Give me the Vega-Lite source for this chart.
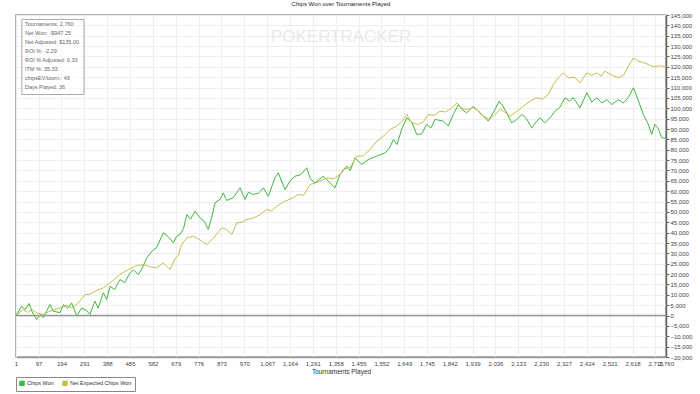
{
  "$schema": "https://vega.github.io/schema/vega-lite/v6.json",
  "autosize": {"type": "none"},
  "width": 650,
  "height": 342,
  "padding": {"left": 16, "top": 15, "right": 34, "bottom": 37},
  "background": "white",
  "title": {"text": "Chips Won over Tournaments Played", "fontSize": 6, "font": "Liberation Sans", "fontWeight": "normal", "color": "#222", "offset": 5, "anchor": "middle"},
  "config": {
    "view": {"stroke": "#999", "strokeWidth": 1.5},
    "font": "Liberation Sans",
    "axis": {"labelFont": "Liberation Sans", "titleFont": "Liberation Sans", "labelColor": "#444", "titleColor": "#333", "gridColor": "#eeeeee", "gridWidth": 1, "labelOverlap": false, "labelFlush": false}
  },
  "datasets": {
    "chips": [
      {"t": 1, "v": 0, "series": "Chips Won"},
      {"t": 25, "v": 4500, "series": "Chips Won"},
      {"t": 39, "v": 2900, "series": "Chips Won"},
      {"t": 57, "v": 5800, "series": "Chips Won"},
      {"t": 68, "v": 2100, "series": "Chips Won"},
      {"t": 89, "v": -1900, "series": "Chips Won"},
      {"t": 104, "v": 500, "series": "Chips Won"},
      {"t": 117, "v": -1000, "series": "Chips Won"},
      {"t": 145, "v": 5300, "series": "Chips Won"},
      {"t": 159, "v": 2100, "series": "Chips Won"},
      {"t": 188, "v": 1400, "series": "Chips Won"},
      {"t": 202, "v": 5300, "series": "Chips Won"},
      {"t": 220, "v": 3500, "series": "Chips Won"},
      {"t": 237, "v": 6100, "series": "Chips Won"},
      {"t": 259, "v": -300, "series": "Chips Won"},
      {"t": 280, "v": 3700, "series": "Chips Won"},
      {"t": 300, "v": 2500, "series": "Chips Won"},
      {"t": 315, "v": 500, "series": "Chips Won"},
      {"t": 336, "v": 6900, "series": "Chips Won"},
      {"t": 350, "v": 3700, "series": "Chips Won"},
      {"t": 372, "v": 11000, "series": "Chips Won"},
      {"t": 386, "v": 7700, "series": "Chips Won"},
      {"t": 400, "v": 14100, "series": "Chips Won"},
      {"t": 420, "v": 12500, "series": "Chips Won"},
      {"t": 442, "v": 17400, "series": "Chips Won"},
      {"t": 462, "v": 15800, "series": "Chips Won"},
      {"t": 485, "v": 20600, "series": "Chips Won"},
      {"t": 500, "v": 22000, "series": "Chips Won"},
      {"t": 520, "v": 19800, "series": "Chips Won"},
      {"t": 535, "v": 22500, "series": "Chips Won"},
      {"t": 556, "v": 27800, "series": "Chips Won"},
      {"t": 577, "v": 31000, "series": "Chips Won"},
      {"t": 598, "v": 32700, "series": "Chips Won"},
      {"t": 626, "v": 39900, "series": "Chips Won"},
      {"t": 648, "v": 38000, "series": "Chips Won"},
      {"t": 669, "v": 35100, "series": "Chips Won"},
      {"t": 683, "v": 38300, "series": "Chips Won"},
      {"t": 697, "v": 39100, "series": "Chips Won"},
      {"t": 712, "v": 42000, "series": "Chips Won"},
      {"t": 726, "v": 48700, "series": "Chips Won"},
      {"t": 742, "v": 46500, "series": "Chips Won"},
      {"t": 761, "v": 50300, "series": "Chips Won"},
      {"t": 782, "v": 47100, "series": "Chips Won"},
      {"t": 800, "v": 45500, "series": "Chips Won"},
      {"t": 817, "v": 41500, "series": "Chips Won"},
      {"t": 832, "v": 47500, "series": "Chips Won"},
      {"t": 846, "v": 54400, "series": "Chips Won"},
      {"t": 867, "v": 56000, "series": "Chips Won"},
      {"t": 881, "v": 59200, "series": "Chips Won"},
      {"t": 895, "v": 55500, "series": "Chips Won"},
      {"t": 923, "v": 56800, "series": "Chips Won"},
      {"t": 952, "v": 61600, "series": "Chips Won"},
      {"t": 973, "v": 56000, "series": "Chips Won"},
      {"t": 988, "v": 59500, "series": "Chips Won"},
      {"t": 1008, "v": 58400, "series": "Chips Won"},
      {"t": 1030, "v": 59000, "series": "Chips Won"},
      {"t": 1051, "v": 61600, "series": "Chips Won"},
      {"t": 1072, "v": 57500, "series": "Chips Won"},
      {"t": 1100, "v": 66400, "series": "Chips Won"},
      {"t": 1114, "v": 68900, "series": "Chips Won"},
      {"t": 1143, "v": 60800, "series": "Chips Won"},
      {"t": 1165, "v": 65000, "series": "Chips Won"},
      {"t": 1185, "v": 67200, "series": "Chips Won"},
      {"t": 1210, "v": 68000, "series": "Chips Won"},
      {"t": 1235, "v": 71300, "series": "Chips Won"},
      {"t": 1250, "v": 66000, "series": "Chips Won"},
      {"t": 1270, "v": 64000, "series": "Chips Won"},
      {"t": 1305, "v": 67200, "series": "Chips Won"},
      {"t": 1330, "v": 64500, "series": "Chips Won"},
      {"t": 1355, "v": 61600, "series": "Chips Won"},
      {"t": 1376, "v": 68000, "series": "Chips Won"},
      {"t": 1405, "v": 72100, "series": "Chips Won"},
      {"t": 1420, "v": 70000, "series": "Chips Won"},
      {"t": 1440, "v": 76100, "series": "Chips Won"},
      {"t": 1468, "v": 72900, "series": "Chips Won"},
      {"t": 1497, "v": 75300, "series": "Chips Won"},
      {"t": 1532, "v": 76900, "series": "Chips Won"},
      {"t": 1567, "v": 78500, "series": "Chips Won"},
      {"t": 1585, "v": 80500, "series": "Chips Won"},
      {"t": 1603, "v": 84900, "series": "Chips Won"},
      {"t": 1618, "v": 82500, "series": "Chips Won"},
      {"t": 1638, "v": 89800, "series": "Chips Won"},
      {"t": 1660, "v": 95400, "series": "Chips Won"},
      {"t": 1680, "v": 93500, "series": "Chips Won"},
      {"t": 1702, "v": 87400, "series": "Chips Won"},
      {"t": 1722, "v": 87500, "series": "Chips Won"},
      {"t": 1744, "v": 92200, "series": "Chips Won"},
      {"t": 1762, "v": 90500, "series": "Chips Won"},
      {"t": 1780, "v": 94600, "series": "Chips Won"},
      {"t": 1815, "v": 93800, "series": "Chips Won"},
      {"t": 1836, "v": 91400, "series": "Chips Won"},
      {"t": 1857, "v": 97000, "series": "Chips Won"},
      {"t": 1879, "v": 101800, "series": "Chips Won"},
      {"t": 1893, "v": 99500, "series": "Chips Won"},
      {"t": 1914, "v": 97800, "series": "Chips Won"},
      {"t": 1942, "v": 101000, "series": "Chips Won"},
      {"t": 1962, "v": 98600, "series": "Chips Won"},
      {"t": 1985, "v": 96200, "series": "Chips Won"},
      {"t": 2006, "v": 93800, "series": "Chips Won"},
      {"t": 2034, "v": 99400, "series": "Chips Won"},
      {"t": 2052, "v": 103400, "series": "Chips Won"},
      {"t": 2068, "v": 101000, "series": "Chips Won"},
      {"t": 2084, "v": 97800, "series": "Chips Won"},
      {"t": 2105, "v": 93000, "series": "Chips Won"},
      {"t": 2126, "v": 94500, "series": "Chips Won"},
      {"t": 2148, "v": 97000, "series": "Chips Won"},
      {"t": 2168, "v": 95000, "series": "Chips Won"},
      {"t": 2190, "v": 90600, "series": "Chips Won"},
      {"t": 2210, "v": 93500, "series": "Chips Won"},
      {"t": 2225, "v": 95400, "series": "Chips Won"},
      {"t": 2246, "v": 93000, "series": "Chips Won"},
      {"t": 2268, "v": 95400, "series": "Chips Won"},
      {"t": 2289, "v": 98600, "series": "Chips Won"},
      {"t": 2310, "v": 100500, "series": "Chips Won"},
      {"t": 2331, "v": 105100, "series": "Chips Won"},
      {"t": 2350, "v": 103500, "series": "Chips Won"},
      {"t": 2367, "v": 105100, "series": "Chips Won"},
      {"t": 2395, "v": 100200, "series": "Chips Won"},
      {"t": 2424, "v": 107500, "series": "Chips Won"},
      {"t": 2445, "v": 103000, "series": "Chips Won"},
      {"t": 2466, "v": 105100, "series": "Chips Won"},
      {"t": 2488, "v": 102500, "series": "Chips Won"},
      {"t": 2509, "v": 104200, "series": "Chips Won"},
      {"t": 2530, "v": 101800, "series": "Chips Won"},
      {"t": 2558, "v": 104200, "series": "Chips Won"},
      {"t": 2578, "v": 102500, "series": "Chips Won"},
      {"t": 2600, "v": 105100, "series": "Chips Won"},
      {"t": 2622, "v": 109900, "series": "Chips Won"},
      {"t": 2640, "v": 104500, "series": "Chips Won"},
      {"t": 2664, "v": 97000, "series": "Chips Won"},
      {"t": 2685, "v": 92200, "series": "Chips Won"},
      {"t": 2699, "v": 87400, "series": "Chips Won"},
      {"t": 2713, "v": 92200, "series": "Chips Won"},
      {"t": 2726, "v": 90500, "series": "Chips Won"},
      {"t": 2742, "v": 85800, "series": "Chips Won"},
      {"t": 2760, "v": 85500, "series": "Chips Won"},

      {"t": 1, "v": 0, "series": "Net Expected Chips Won"},
      {"t": 32, "v": 2900, "series": "Net Expected Chips Won"},
      {"t": 50, "v": 1500, "series": "Net Expected Chips Won"},
      {"t": 68, "v": 2900, "series": "Net Expected Chips Won"},
      {"t": 89, "v": 1300, "series": "Net Expected Chips Won"},
      {"t": 117, "v": 500, "series": "Net Expected Chips Won"},
      {"t": 145, "v": 2100, "series": "Net Expected Chips Won"},
      {"t": 188, "v": 3700, "series": "Net Expected Chips Won"},
      {"t": 215, "v": 4800, "series": "Net Expected Chips Won"},
      {"t": 237, "v": 3800, "series": "Net Expected Chips Won"},
      {"t": 259, "v": 5300, "series": "Net Expected Chips Won"},
      {"t": 294, "v": 10100, "series": "Net Expected Chips Won"},
      {"t": 315, "v": 10300, "series": "Net Expected Chips Won"},
      {"t": 336, "v": 11700, "series": "Net Expected Chips Won"},
      {"t": 372, "v": 13400, "series": "Net Expected Chips Won"},
      {"t": 400, "v": 15800, "series": "Net Expected Chips Won"},
      {"t": 442, "v": 19800, "series": "Net Expected Chips Won"},
      {"t": 478, "v": 22200, "series": "Net Expected Chips Won"},
      {"t": 506, "v": 23800, "series": "Net Expected Chips Won"},
      {"t": 541, "v": 24600, "series": "Net Expected Chips Won"},
      {"t": 570, "v": 23500, "series": "Net Expected Chips Won"},
      {"t": 598, "v": 23000, "series": "Net Expected Chips Won"},
      {"t": 626, "v": 25400, "series": "Net Expected Chips Won"},
      {"t": 655, "v": 22200, "series": "Net Expected Chips Won"},
      {"t": 676, "v": 27500, "series": "Net Expected Chips Won"},
      {"t": 690, "v": 29000, "series": "Net Expected Chips Won"},
      {"t": 704, "v": 34300, "series": "Net Expected Chips Won"},
      {"t": 726, "v": 37500, "series": "Net Expected Chips Won"},
      {"t": 754, "v": 38300, "series": "Net Expected Chips Won"},
      {"t": 782, "v": 36500, "series": "Net Expected Chips Won"},
      {"t": 811, "v": 34300, "series": "Net Expected Chips Won"},
      {"t": 840, "v": 37500, "series": "Net Expected Chips Won"},
      {"t": 874, "v": 42300, "series": "Net Expected Chips Won"},
      {"t": 895, "v": 41500, "series": "Net Expected Chips Won"},
      {"t": 917, "v": 39100, "series": "Net Expected Chips Won"},
      {"t": 938, "v": 44700, "series": "Net Expected Chips Won"},
      {"t": 960, "v": 45000, "series": "Net Expected Chips Won"},
      {"t": 980, "v": 46300, "series": "Net Expected Chips Won"},
      {"t": 1008, "v": 47000, "series": "Net Expected Chips Won"},
      {"t": 1037, "v": 48700, "series": "Net Expected Chips Won"},
      {"t": 1065, "v": 51200, "series": "Net Expected Chips Won"},
      {"t": 1085, "v": 50500, "series": "Net Expected Chips Won"},
      {"t": 1108, "v": 52700, "series": "Net Expected Chips Won"},
      {"t": 1143, "v": 55200, "series": "Net Expected Chips Won"},
      {"t": 1178, "v": 56800, "series": "Net Expected Chips Won"},
      {"t": 1199, "v": 58400, "series": "Net Expected Chips Won"},
      {"t": 1222, "v": 58000, "series": "Net Expected Chips Won"},
      {"t": 1249, "v": 63200, "series": "Net Expected Chips Won"},
      {"t": 1285, "v": 64500, "series": "Net Expected Chips Won"},
      {"t": 1320, "v": 66400, "series": "Net Expected Chips Won"},
      {"t": 1350, "v": 66000, "series": "Net Expected Chips Won"},
      {"t": 1376, "v": 68000, "series": "Net Expected Chips Won"},
      {"t": 1390, "v": 70500, "series": "Net Expected Chips Won"},
      {"t": 1420, "v": 71500, "series": "Net Expected Chips Won"},
      {"t": 1447, "v": 76900, "series": "Net Expected Chips Won"},
      {"t": 1475, "v": 77000, "series": "Net Expected Chips Won"},
      {"t": 1504, "v": 80100, "series": "Net Expected Chips Won"},
      {"t": 1532, "v": 84100, "series": "Net Expected Chips Won"},
      {"t": 1560, "v": 86500, "series": "Net Expected Chips Won"},
      {"t": 1589, "v": 89800, "series": "Net Expected Chips Won"},
      {"t": 1617, "v": 91400, "series": "Net Expected Chips Won"},
      {"t": 1638, "v": 93500, "series": "Net Expected Chips Won"},
      {"t": 1660, "v": 97000, "series": "Net Expected Chips Won"},
      {"t": 1681, "v": 93000, "series": "Net Expected Chips Won"},
      {"t": 1709, "v": 92200, "series": "Net Expected Chips Won"},
      {"t": 1730, "v": 93500, "series": "Net Expected Chips Won"},
      {"t": 1751, "v": 97000, "series": "Net Expected Chips Won"},
      {"t": 1775, "v": 96500, "series": "Net Expected Chips Won"},
      {"t": 1801, "v": 98600, "series": "Net Expected Chips Won"},
      {"t": 1825, "v": 98200, "series": "Net Expected Chips Won"},
      {"t": 1850, "v": 100200, "series": "Net Expected Chips Won"},
      {"t": 1872, "v": 102600, "series": "Net Expected Chips Won"},
      {"t": 1893, "v": 100000, "series": "Net Expected Chips Won"},
      {"t": 1914, "v": 99400, "series": "Net Expected Chips Won"},
      {"t": 1942, "v": 100200, "series": "Net Expected Chips Won"},
      {"t": 1962, "v": 99000, "series": "Net Expected Chips Won"},
      {"t": 1985, "v": 96200, "series": "Net Expected Chips Won"},
      {"t": 2013, "v": 94600, "series": "Net Expected Chips Won"},
      {"t": 2034, "v": 97000, "series": "Net Expected Chips Won"},
      {"t": 2056, "v": 99400, "series": "Net Expected Chips Won"},
      {"t": 2070, "v": 98600, "series": "Net Expected Chips Won"},
      {"t": 2098, "v": 96200, "series": "Net Expected Chips Won"},
      {"t": 2126, "v": 98500, "series": "Net Expected Chips Won"},
      {"t": 2155, "v": 101000, "series": "Net Expected Chips Won"},
      {"t": 2183, "v": 103400, "series": "Net Expected Chips Won"},
      {"t": 2211, "v": 105100, "series": "Net Expected Chips Won"},
      {"t": 2235, "v": 104500, "series": "Net Expected Chips Won"},
      {"t": 2261, "v": 106700, "series": "Net Expected Chips Won"},
      {"t": 2282, "v": 111500, "series": "Net Expected Chips Won"},
      {"t": 2303, "v": 114700, "series": "Net Expected Chips Won"},
      {"t": 2324, "v": 117100, "series": "Net Expected Chips Won"},
      {"t": 2345, "v": 114700, "series": "Net Expected Chips Won"},
      {"t": 2370, "v": 115000, "series": "Net Expected Chips Won"},
      {"t": 2395, "v": 112300, "series": "Net Expected Chips Won"},
      {"t": 2424, "v": 117100, "series": "Net Expected Chips Won"},
      {"t": 2445, "v": 115800, "series": "Net Expected Chips Won"},
      {"t": 2466, "v": 117100, "series": "Net Expected Chips Won"},
      {"t": 2485, "v": 115500, "series": "Net Expected Chips Won"},
      {"t": 2501, "v": 117900, "series": "Net Expected Chips Won"},
      {"t": 2530, "v": 116000, "series": "Net Expected Chips Won"},
      {"t": 2558, "v": 114700, "series": "Net Expected Chips Won"},
      {"t": 2580, "v": 116000, "series": "Net Expected Chips Won"},
      {"t": 2600, "v": 120300, "series": "Net Expected Chips Won"},
      {"t": 2622, "v": 124300, "series": "Net Expected Chips Won"},
      {"t": 2643, "v": 122700, "series": "Net Expected Chips Won"},
      {"t": 2665, "v": 122000, "series": "Net Expected Chips Won"},
      {"t": 2685, "v": 121100, "series": "Net Expected Chips Won"},
      {"t": 2705, "v": 120000, "series": "Net Expected Chips Won"},
      {"t": 2721, "v": 120300, "series": "Net Expected Chips Won"},
      {"t": 2742, "v": 120500, "series": "Net Expected Chips Won"},
      {"t": 2760, "v": 119500, "series": "Net Expected Chips Won"}
    ],
    "one": [{}]
  },
  "layer": [
    {
      "data": {"name": "chips"},
      "mark": {"type": "line", "strokeWidth": 1, "interpolate": "linear"},
      "encoding": {
        "x": {
          "field": "t", "type": "quantitative",
          "scale": {"domain": [1, 2760], "nice": false, "zero": false},
          "axis": {
            "title": "Tournaments Played", "titleFontSize": 6.5, "titleFontWeight": "normal", "titlePadding": 2,
            "values": [1, 97, 194, 291, 388, 485, 582, 679, 776, 873, 970, 1067, 1164, 1261, 1358, 1455, 1552, 1649, 1745, 1842, 1939, 2036, 2133, 2230, 2327, 2424, 2521, 2618, 2715, 2760],
            "tickCount": 60,
            "format": ",d", "labelFontSize": 6, "labelOverlap": false, "labelPadding": 3, "ticks": false,
            "domainColor": "#999999", "domainWidth": 1.5, "grid": true, "labelFlush": false
          }
        },
        "y": {
          "field": "v", "type": "quantitative",
          "scale": {"domain": [-20000, 145000], "nice": false, "zero": false},
          "axis": {
            "title": null, "orient": "right",
            "values": [-20000, -15000, -10000, -5000, 0, 5000, 10000, 15000, 20000, 25000, 30000, 35000, 40000, 45000, 50000, 55000, 60000, 65000, 70000, 75000, 80000, 85000, 90000, 95000, 100000, 105000, 110000, 115000, 120000, 125000, 130000, 135000, 140000, 145000],
            "tickCount": 60,
            "format": ",d", "labelFontSize": 6, "labelPadding": 1, "tickSize": 3, "tickColor": "#666666",
            "domainColor": "#666666", "domainWidth": 1.5, "grid": true, "labelOverlap": false, "labelFlush": false
          }
        },
        "color": {
          "field": "series", "type": "nominal",
          "scale": {"domain": ["Chips Won", "Net Expected Chips Won"], "range": ["#3fb83f", "#c4bd4c"]},
          "legend": {
            "title": null, "orient": "none", "legendX": 0, "legendY": 362, "direction": "horizontal",
            "symbolType": "square", "symbolSize": 20, "symbolStrokeWidth": 1, "labelFontSize": 5.5, "labelColor": "#333",
            "strokeColor": "#888888", "padding": 3, "columnPadding": 6, "labelOffset": 2,
            "encode": {"symbols": {"update": {"fill": {"scale": "color", "field": "value"}, "stroke": {"value": "#444444"}, "fillOpacity": {"value": 1}}}}
          }
        }
      }
    },
    {
      "data": {"name": "one"},
      "mark": {"type": "text", "fontSize": 17, "font": "Liberation Sans", "color": "#e9e9e9", "align": "center", "baseline": "middle"},
      "encoding": {
        "x": {"datum": 1381, "type": "quantitative"},
        "y": {"datum": 134200, "type": "quantitative"},
        "text": {"value": "POKERTRACKER"}
      }
    },
    {
      "data": {"name": "one"},
      "mark": {"type": "rule", "color": "#999999", "strokeWidth": 1.5},
      "encoding": {
        "y": {"datum": 0, "type": "quantitative"}
      }
    },
    {
      "data": {"name": "one"},
      "mark": {"type": "rect", "fill": "white", "fillOpacity": 0.6, "stroke": "#aaaaaa", "strokeWidth": 1},
      "encoding": {
        "x": {"datum": 26, "type": "quantitative"},
        "x2": {"datum": 290},
        "y": {"datum": 142850, "type": "quantitative"},
        "y2": {"datum": 106650}
      }
    },
    {
      "data": {"name": "one"},
      "mark": {"type": "text", "fontSize": 5.5, "font": "Liberation Sans", "color": "#666666", "align": "left", "baseline": "middle", "lineHeight": 9},
      "encoding": {
        "x": {"datum": 39, "type": "quantitative"},
        "y": {"datum": 140700, "type": "quantitative"},
        "text": {"value": ["Tournaments: 2,760", "Net Won: -$947.25", "Net Adjusted: $135.00", "ROI %: -2.29", "ROI % Adjusted: 0.33", "ITM %: 35.33", "chipsEV/tourn.: 43", "Days Played: 36"]}
      }
    }
  ]
}
